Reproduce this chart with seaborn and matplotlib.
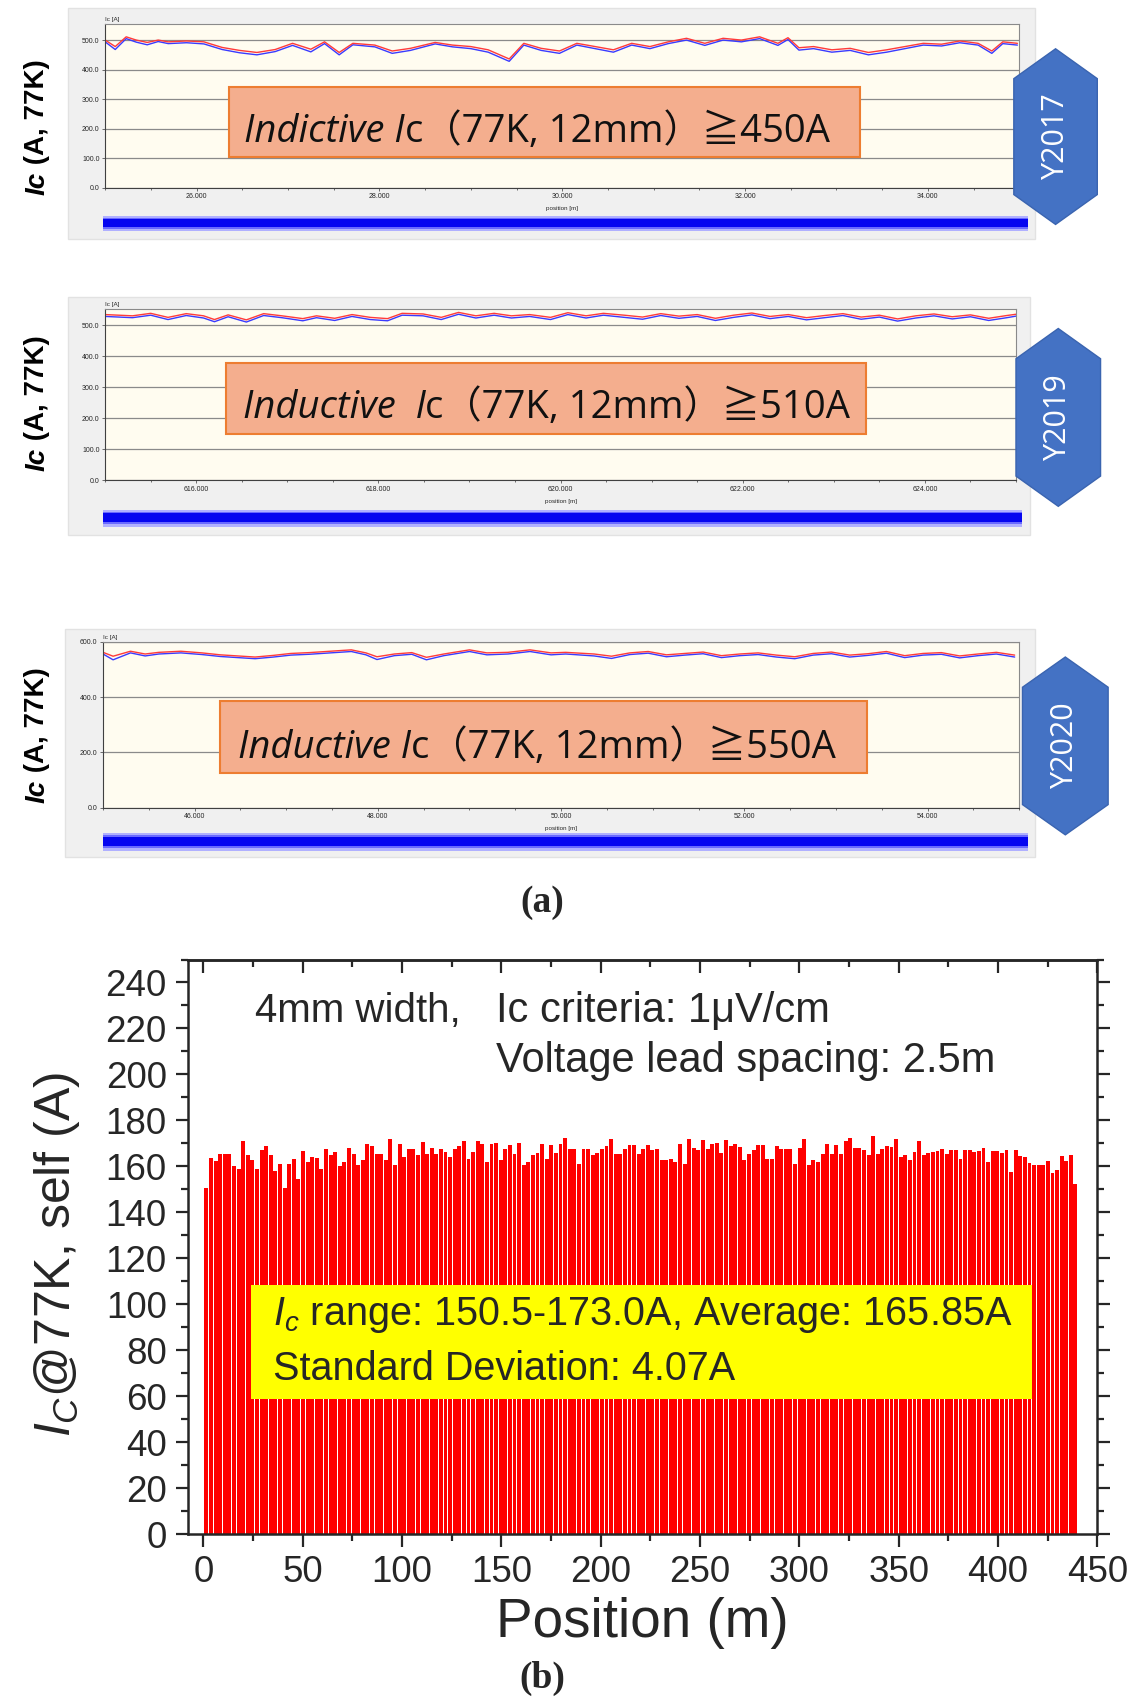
import numpy as np
import pandas as pd
import matplotlib.pyplot as plt
import seaborn as sns
from matplotlib.patches import Rectangle, Polygon
from matplotlib.ticker import MultipleLocator, FuncFormatter, FormatStrFormatter

# --- DATA: (a) inductive Ic scans of three production years ---
years = ["Y2017", "Y2019", "Y2020"]
box_italic = ["Indictive I", "Inductive  I", "Inductive I"]
box_plain = ["c\uff0877K, 12mm\uff09\u2267450A", "c\uff0877K, 12mm\uff09\u2267510A", "c\uff0877K, 12mm\uff09\u2267550A"]

p1_pos = [25000, 25110, 25230, 25340, 25460, 25580, 25690, 25890, 26080, 26280,
          26470, 26660, 26860, 27050, 27250, 27400, 27560, 27710, 27950, 28140,
          28340, 28610, 28800, 29000, 29190, 29420, 29580, 29770, 29970, 30160,
          30360, 30560, 30760, 30960, 31160, 31360, 31560, 31760, 31960, 32160,
          32360, 32470, 32590, 32750, 32950, 33150, 33350, 33550, 33750, 33950,
          34150, 34350, 34550, 34700, 34820, 34980]
p1_red = [500, 478, 511, 500, 492, 500, 494, 497, 494, 475,
          465, 458, 468, 489, 469, 494, 458, 489, 483, 463,
          472, 492, 483, 478, 467, 436, 489, 472, 463, 489,
          478, 467, 489, 478, 494, 506, 489, 506, 500, 511,
          489, 508, 474, 478, 467, 472, 458, 467, 478, 489,
          486, 497, 489, 463, 494, 489]
p1_blue = [494, 468, 505, 493, 484, 495, 488, 491, 487, 468,
           457, 450, 461, 482, 460, 488, 450, 484, 477, 455,
           465, 487, 477, 471, 459, 428, 483, 465, 455, 483,
           471, 459, 483, 471, 488, 500, 482, 500, 494, 505,
           482, 502, 466, 471, 459, 465, 450, 459, 471, 483,
           480, 491, 483, 455, 488, 483]

p2_pos = [615000, 615300, 615500, 615690, 615890, 616080, 616200, 616350, 616550, 616740,
          616940, 617170, 617320, 617520, 617710, 617910, 618100, 618260, 618490, 618690,
          618880, 619070, 619270, 619460, 619660, 619890, 620080, 620280, 620470, 620700,
          620900, 621100, 621300, 621500, 621700, 621900, 622100, 622300, 622500, 622700,
          622900, 623100, 623300, 623500, 623700, 623900, 624100, 624300, 624500, 624700,
          624900, 625000]
p2_red = [534, 530, 538, 525, 537, 530, 518, 533, 517, 537,
          530, 521, 530, 522, 534, 525, 521, 538, 536, 525,
          541, 530, 538, 530, 534, 525, 540, 530, 538, 532,
          526, 537, 529, 534, 522, 532, 539, 528, 534, 524,
          531, 537, 526, 532, 520, 530, 536, 527, 533, 522,
          531, 535]
p2_blue = [528, 524, 532, 518, 531, 523, 511, 527, 510, 531,
           524, 514, 524, 515, 528, 518, 514, 532, 530, 518,
           535, 523, 532, 523, 528, 518, 534, 523, 532, 525,
           519, 531, 522, 528, 515, 525, 533, 521, 528, 517,
           524, 531, 519, 526, 513, 523, 530, 520, 527, 515,
           524, 529]

p3_pos = [45000, 45110, 45300, 45460, 45610, 45850, 46080, 46280, 46470, 46660,
          46860, 47050, 47250, 47480, 47710, 47870, 47990, 48180, 48370, 48530,
          48720, 49000, 49190, 49420, 49660, 49890, 50050, 50360, 50550, 50750,
          50950, 51150, 51350, 51550, 51750, 51950, 52150, 52350, 52550, 52750,
          52950, 53150, 53350, 53550, 53750, 53950, 54150, 54350, 54550, 54750,
          54950]
p3_red = [562, 548, 566, 556, 562, 566, 560, 553, 549, 545,
          551, 558, 561, 566, 571, 560, 546, 556, 561, 544,
          556, 571, 560, 562, 571, 560, 562, 556, 548, 560,
          565, 553, 558, 563, 550, 556, 560, 552, 546, 558,
          563, 552, 557, 565, 550, 558, 561, 549, 556, 562,
          552]
p3_blue = [556, 535, 560, 549, 556, 560, 554, 547, 543, 539,
           545, 552, 555, 560, 565, 553, 536, 550, 555, 535,
           550, 565, 553, 556, 565, 553, 556, 549, 540, 554,
           559, 546, 552, 557, 543, 550, 554, 545, 539, 552,
           557, 545, 551, 559, 543, 552, 555, 542, 550, 556,
           545]

x_ranges = [(25000, 35000), (615000, 625000), (45000, 55000)]
x_ticks = [[26000, 28000, 30000, 32000, 34000],
           [616000, 618000, 620000, 622000, 624000],
           [46000, 48000, 50000, 52000, 54000]]
y_tops = [555, 552, 600]
y_steps = [100, 100, 200]

# --- DATA: (b) Ic per 2.5 m voltage-lead section ---
ic_values = [
    150.6, 163.6, 162.2, 165.4, 165.4, 165.4, 160.1, 159.0, 170.9, 165.1, 162.9, 158.7, 167.2, 168.7, 165.1, 158.0,
    161.2, 150.5, 161.2, 163.0, 154.6, 166.8, 161.9, 164.1, 163.6, 158.7, 167.5, 165.1, 166.2, 160.1, 161.9,
    168.0, 165.4, 160.4, 162.9, 169.9, 168.7, 165.4, 165.4, 162.6, 172.0, 160.4, 169.6, 164.1, 167.4, 167.4, 164.8,
    170.6, 165.4, 168.0, 165.4, 167.7, 166.2, 164.1, 167.4, 168.7, 170.9, 163.0, 166.2, 170.9, 169.9, 161.9, 169.9,
    170.3, 162.6, 167.7, 169.1, 165.4, 170.3, 160.7, 161.9, 164.8, 165.9, 169.6, 163.3, 169.1, 165.9, 169.9, 172.3,
    167.7, 167.4, 161.2, 167.4, 167.4, 165.1, 165.9, 167.4, 168.7, 171.7, 165.4, 165.4, 167.4, 169.1, 169.4, 165.4, 167.4,
    169.1, 167.2, 167.7, 162.9, 162.9, 163.3, 161.9, 169.9, 161.2, 171.7, 168.1, 167.0, 171.3, 167.4, 169.9, 170.3,
    165.9, 171.3, 168.7, 169.9, 168.4, 162.9, 165.5, 167.0, 169.1, 169.1, 163.0, 163.0, 168.7, 167.7, 167.7, 167.7, 161.2,
    168.1, 171.7, 160.4, 162.6, 161.9, 165.5, 169.9, 165.5, 169.1, 165.5, 171.0, 172.5, 168.1, 168.1, 167.0, 164.8,
    173.0, 165.5, 167.4, 168.8, 168.4, 171.7, 164.1, 165.1, 162.9, 166.2, 171.0, 165.1, 165.9, 166.2, 166.5, 167.7, 165.5,
    167.0, 167.0, 163.0, 167.2, 167.2, 166.2, 166.5, 168.0, 161.9, 166.7, 166.7, 165.9, 167.2, 157.5, 167.2, 164.3,
    164.1, 161.4, 160.4, 160.4, 160.4, 162.3, 157.2, 158.3, 164.5, 162.3, 164.8, 152.5]
first_pos, last_pos = 1.5, 439.0

traces = [(p1_pos, p1_red, p1_blue), (p2_pos, p2_red, p2_blue), (p3_pos, p3_red, p3_blue)]

# --- LAYOUT (reference pixel coords at 1044x1568) ---
W, H = 1044.0, 1568.0
layout = [
    dict(frame=(63, 7, 955, 220), plot=(97, 22, 940, 173), band=(95, 199, 948, 213),
         box=(211, 80, 793, 145), text=(495, 131), hexa=(935, 45, 1012, 207), ylab=117),
    dict(frame=(63, 274, 950, 493), plot=(97, 285, 937, 443), band=(95, 470, 943, 486),
         box=(208, 335, 799, 400), text=(504, 386), hexa=(937, 303, 1015, 467), ylab=372),
    dict(frame=(60, 580, 955, 790), plot=(95, 592, 940, 745), band=(95, 768, 948, 785),
         box=(203, 647, 800, 713), text=(495, 699), hexa=(943, 606, 1022, 770), ylab=678),
]


def fr(x0, y0, x1, y1):
    return [x0 / W, 1 - y1 / H, (x1 - x0) / W, (y1 - y0) / H]


sns.set_style("ticks")
plt.rcParams['font.family'] = ['Liberation Sans', 'DejaVu Sans']
plt.rcParams['mathtext.fontset'] = 'custom'
plt.rcParams['mathtext.rm'] = 'Liberation Sans'
plt.rcParams['mathtext.it'] = 'Liberation Sans:italic'

fig = plt.figure(figsize=(11.32, 17), dpi=100)
renderer = fig.canvas.get_renderer()


def chain_text(x, y, parts, rotation=0, **kw):
    # place differently styled pieces one after another, centred on (x, y)
    texts, sizes = [], []
    for s, st in parts:
        t = fig.text(0, 0, s, rotation=rotation, rotation_mode='anchor',
                     ha='left', va='baseline', **{**kw, **st})
        bb = t.get_window_extent(renderer=renderer)
        sizes.append(bb.height / fig.bbox.height if rotation == 90 else bb.width / fig.bbox.width)
        texts.append(t)
    p = (y if rotation == 90 else x) - sum(sizes) / 2
    for t, s in zip(texts, sizes):
        t.set_position((x, p) if rotation == 90 else (p, y))
        p += s


# --- (a) three scan screenshots ---
for i, L in enumerate(layout):
    f = fr(*L['frame'])
    fig.patches.append(Rectangle((f[0], f[1]), f[2], f[3], transform=fig.transFigure,
                                 facecolor='#f0f0f0', edgecolor='#e2e2e2', lw=1, zorder=-5))
    ax = fig.add_axes(fr(*L['plot']))
    ax.set_facecolor('#fffcf0')
    pos, red, blue = traces[i]
    df = pd.DataFrame({'pos': pos, 'red': red, 'blue': blue})
    sns.lineplot(data=df, x='pos', y='blue', color='#3a3aff', lw=1.0, estimator=None, ax=ax)
    sns.lineplot(data=df, x='pos', y='red', color='#ff3a3a', lw=1.0, estimator=None, ax=ax)
    ax.set_xlim(*x_ranges[i])
    ax.set_ylim(0, y_tops[i])
    ax.yaxis.set_major_locator(MultipleLocator(y_steps[i]))
    ax.yaxis.set_major_formatter(FormatStrFormatter('%.1f'))
    ax.set_xticks(x_ticks[i])
    ax.xaxis.set_major_formatter(FuncFormatter(lambda v, p: f"{int(v) // 1000}.000"))
    ax.xaxis.set_minor_locator(MultipleLocator(500))
    ax.grid(axis='y', color='#8a8a8a', lw=0.9)
    ax.set_axisbelow(True)
    ax.tick_params(labelsize=5, length=2.5, width=0.6, color='#555555', pad=1.5)
    ax.tick_params(which='minor', length=1.5, width=0.6, color='#555555')
    for side in ['left', 'bottom']:
        ax.spines[side].set_color('#404040')
    for side in ['top', 'right']:
        ax.spines[side].set_color('#8a8a8a')
    ax.set_xlabel('')
    ax.set_ylabel('')
    ax.text(0.0, 1.01, 'Ic [A]', transform=ax.transAxes, fontsize=4.5, va='bottom', ha='left')
    ax.text(0.5, -0.11, 'position [m]', transform=ax.transAxes, fontsize=4.5, va='top', ha='center')

    # blue defect strip under the scan
    bax = fig.add_axes(fr(*L['band']))
    bax.axis('off')
    bax.set_xlim(0, 1)
    bax.set_ylim(0, 1)
    bax.add_patch(Rectangle((0, 0), 1, 1, facecolor='#b0b0ff', edgecolor='none'))
    bax.add_patch(Rectangle((0, 0.15), 1, 0.7, facecolor='#6a6aff', edgecolor='none'))
    bax.add_patch(Rectangle((0, 0.28), 1, 0.5, facecolor='#0505f0', edgecolor='none'))

    # orange annotation box
    b = fr(*L['box'])
    fig.patches.append(Rectangle((b[0], b[1]), b[2], b[3], transform=fig.transFigure,
                                 facecolor='#f4ae8e', edgecolor='#ed7d31', lw=1.5, zorder=5))
    tx, ty = L['text']
    chain_text(tx / W, 1 - ty / H,
               [(box_italic[i], dict(style='italic')), (box_plain[i], dict())],
               fontsize=27.5, family=['Open Sans', 'Noto Sans CJK KR', 'DejaVu Sans'],
               color='#111111', zorder=6)

    # year hexagon
    x0, y0, x1, y1 = L['hexa']
    cx, k = (x0 + x1) / 2, 0.17 * (y1 - y0)
    verts = [(cx, y0), (x1, y0 + k), (x1, y1 - k), (cx, y1), (x0, y1 - k), (x0, y0 + k)]
    fig.patches.append(Polygon([(vx / W, 1 - vy / H) for vx, vy in verts], closed=True,
                               transform=fig.transFigure, facecolor='#4472c4',
                               edgecolor='#3a64b0', lw=1, zorder=5))
    fig.text(cx / W, 1 - (y0 + y1) / 2 / H, years[i], rotation=90, color='white', fontsize=22,
             ha='center', va='center', family=['Open Sans', 'DejaVu Sans'], zorder=6)

    # panel y label
    chain_text(41 / W, 1 - L['ylab'] / H,
               [('Ic', dict(style='italic')), (' (A, 77K)', dict())],
               rotation=90, fontsize=20, fontweight='bold', color='black')

fig.text(500 / W, 1 - 832 / H, '(a)', ha='center', va='center', fontsize=27,
         fontweight='bold', family='Liberation Serif')

# --- (b) Ic along the tape ---
axb = fig.add_axes(fr(173, 885, 1012, 1415))
bars = pd.DataFrame({'pos': np.linspace(first_pos, last_pos, len(ic_values)), 'ic': ic_values})
sns.barplot(data=bars, x='pos', y='ic', native_scale=True, color='#ff0000', saturation=1,
            width=0.85, errorbar=None, linewidth=0, ax=axb)
axb.set_xlim(-8, 450)
axb.set_ylim(0, 250)
axb.xaxis.set_major_locator(MultipleLocator(50))
axb.xaxis.set_minor_locator(MultipleLocator(25))
axb.yaxis.set_major_locator(MultipleLocator(20))
axb.yaxis.set_minor_locator(MultipleLocator(10))
axb.xaxis.set_major_formatter(FuncFormatter(lambda v, p: f"{v:.0f}"))
axb.tick_params(which='major', length=9, width=1.6, direction='out', right=True, labelsize=26.5, pad=6)
axb.tick_params(which='minor', length=5, width=1.6, direction='out', right=True)
for s in axb.spines.values():
    s.set_linewidth(1.8)
sec = axb.secondary_xaxis('top')
sec.xaxis.set_major_locator(MultipleLocator(50))
sec.xaxis.set_minor_locator(MultipleLocator(25))
sec.tick_params(which='major', direction='in', length=9, width=1.6, labeltop=False)
sec.tick_params(which='minor', direction='in', length=5, width=1.6)
sec.spines['top'].set_linewidth(1.8)

axb.set_xlabel('Position (m)', fontsize=39.5)
axb.xaxis.set_label_coords(0.4994, -0.155)
axb.xaxis.label.set_va('center')
axb.set_ylabel(r'$I_C$@77K, self (A)', fontsize=36)
axb.yaxis.set_label_coords(-0.144, 0.487)
axb.yaxis.label.set_va('center')

axb.text(25.7, 223, '4mm width,', fontsize=29, va='baseline')
axb.text(147.5, 223, 'Ic criteria: 1\u03bcV/cm', fontsize=30, va='baseline')
axb.text(147.5, 201, 'Voltage lead spacing: 2.5m', fontsize=30, va='baseline')
axb.add_patch(Rectangle((24, 59), 393, 49.4, facecolor='#ffff00', edgecolor='none', zorder=3))
axb.text(35, 91, r'$I_c$ range: 150.5-173.0A, Average: 165.85A', fontsize=28.5, va='baseline', zorder=4)
axb.text(35, 67, 'Standard Deviation: 4.07A', fontsize=28.5, va='baseline', zorder=4)

fig.text(500 / W, 1 - 1548 / H, '(b)', ha='center', va='center', fontsize=27,
         fontweight='bold', family='Liberation Serif')

fig.savefig('out.png', dpi=100)
